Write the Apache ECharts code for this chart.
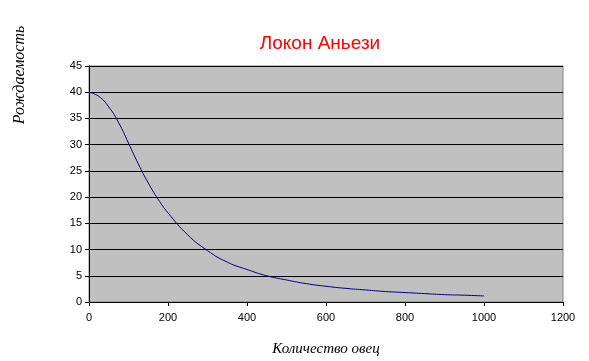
<!DOCTYPE html>
<html><head><meta charset="utf-8">
<script src="https://cdn.jsdelivr.net/npm/echarts@6/dist/echarts.min.js"></script>
<style>html,body{margin:0;padding:0;background:#fff}#c{width:589px;height:361px}</style>
</head><body><div id="c"></div>
<script>
const sheep = [0,25,50,75,100,125,150,175,200,250,300,350,400,450,500,550,600,650,700,750,800,850,900,950,1000];
const births = [40,39.2,37.2,34.2,30.3,26.3,22.7,19.6,17.0,12.8,9.8,7.6,6.2,5.0,4.2,3.5,3.0,2.6,2.3,2.0,1.8,1.6,1.4,1.3,1.15];
const titleText = 'Локон Аньези';
const xName = 'Количество овец';
const yName = 'Рождаемость';

const chart = echarts.init(document.getElementById('c'), null, {renderer:'canvas'});
chart.setOption({
  backgroundColor:'#fff',
  animation:false,
  title:{text:titleText,left:315,top:29,textAlign:'center',
    textStyle:{color:'#ff0000',fontFamily:'Liberation Sans',fontSize:19,fontWeight:'normal'}},
  grid:{left:89,right:26,top:66,bottom:59,outerBoundsMode:'none',containLabel:false,show:true,backgroundColor:'#c0c0c0',borderColor:'#808080',borderWidth:1},
  xAxis:{type:'value',min:0,max:1200,interval:200,
    name:xName,nameLocation:'middle',nameGap:40,
    nameTextStyle:{fontFamily:'Liberation Serif',fontStyle:'italic',fontSize:15,color:'#000'},
    axisLine:{show:true,lineStyle:{color:'#000',width:1}},
    axisTick:{show:true,length:4,inside:false,lineStyle:{color:'#000'}},
    axisLabel:{margin:10,fontFamily:'Liberation Sans',fontSize:11,color:'#000',formatter:v=>String(v)},
    splitLine:{show:false}},
  yAxis:{type:'value',min:0,max:45,interval:5,
    axisLine:{show:true,lineStyle:{color:'#000',width:1}},
    axisTick:{show:true,length:4,inside:false,lineStyle:{color:'#000'}},
    axisLabel:{margin:7,fontFamily:'Liberation Sans',fontSize:11,color:'#000'},
    splitLine:{show:true,lineStyle:{color:'#000',width:1}}},
  graphic:[{type:'text',x:20,y:75,rotation:Math.PI/2,
    style:{text:yName,font:'italic 16px "Liberation Serif"',fill:'#000',textAlign:'center',textVerticalAlign:'middle'}}],
  series:[{type:'line',data:sheep.map((x,i)=>[x,births[i]]),smooth:true,showSymbol:false,
    lineStyle:{color:'#000080',width:1}}]
});
</script></body></html>
